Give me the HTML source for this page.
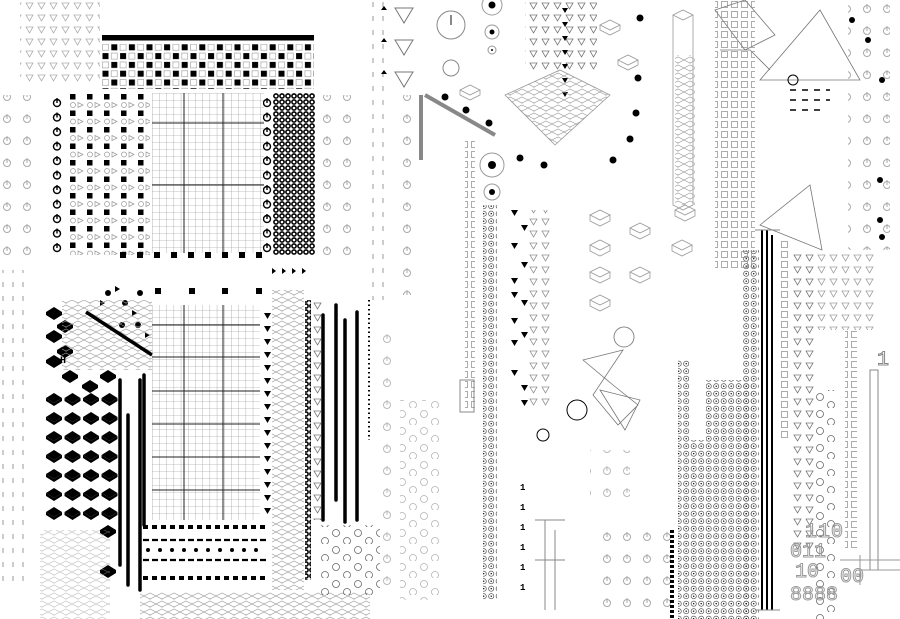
<!DOCTYPE html>
<html><head><meta charset="utf-8"><style>
html,body{margin:0;padding:0;background:#fff;width:900px;height:619px;overflow:hidden}
svg{display:block}
text{font-family:"Liberation Mono",monospace}
</style></head><body>
<svg width="900" height="619" viewBox="0 0 900 619" xmlns="http://www.w3.org/2000/svg">
<defs>
<pattern id="chk" x="102" y="35" width="17.6" height="17.6" patternUnits="userSpaceOnUse">
<rect x="0.5" y="0.5" width="6" height="6" fill="#000"/><rect x="9.3" y="0.5" width="6" height="6" fill="none" stroke="#999" stroke-width=".6"/>
<rect x="9.3" y="9.3" width="6" height="6" fill="#000"/><rect x="0.5" y="9.3" width="6" height="6" fill="none" stroke="#999" stroke-width=".6"/>
</pattern>
<pattern id="lb" x="68" y="93" width="17" height="16.5" patternUnits="userSpaceOnUse">
<rect x="2" y="1" width="5.5" height="5.5" fill="#000"/>
<circle cx="5" cy="12" r="2.5" fill="none" stroke="#999" stroke-width=".7"/><path d="M10 9.5l5 2.5-5 2.5z" fill="none" stroke="#999" stroke-width=".7"/>
</pattern>
<pattern id="grid" x="152" y="93" width="7.2" height="7" patternUnits="userSpaceOnUse">
<path d="M0 0H7.2M0 0V7" stroke="#888" stroke-width=".6" fill="none"/>
</pattern>
<pattern id="dots" x="273" y="93" width="6" height="6" patternUnits="userSpaceOnUse">
<circle cx="3" cy="3" r="2.1" fill="none" stroke="#000" stroke-width="1.6"/>
</pattern>
<pattern id="pw" x="50" y="95" width="15" height="14.5" patternUnits="userSpaceOnUse">
<circle cx="7" cy="8" r="3.5" fill="none" stroke="#000" stroke-width="1.4"/><path d="M7 3v5" stroke="#000" stroke-width="1.4"/>
</pattern>
<pattern id="pwg" width="20" height="22" patternUnits="userSpaceOnUse">
<circle cx="7" cy="9" r="3.5" fill="none" stroke="#aaa" stroke-width="1"/><path d="M7 4v5" stroke="#aaa" stroke-width="1"/>
</pattern>
<pattern id="hex" x="45" y="390" width="18.5" height="19" patternUnits="userSpaceOnUse">
<path d="M1 8l8-5 8 5-8 5z" fill="#000"/><path d="M1 8v3l8 5 8-5v-3l-8 5z" fill="#000"/>
</pattern>
<pattern id="cube" width="12" height="8" patternUnits="userSpaceOnUse">
<path d="M0 4l6-3 6 3-6 3zM6 7v1" fill="none" stroke="#999" stroke-width=".6"/>
</pattern>
<pattern id="ccol" width="7.5" height="7.5" patternUnits="userSpaceOnUse">
<circle cx="3.7" cy="3.7" r="2.6" fill="none" stroke="#555" stroke-width=".7"/><circle cx="3.7" cy="3.7" r=".7" fill="#000"/>
</pattern>
<pattern id="oc" width="22" height="17" patternUnits="userSpaceOnUse">
<circle cx="6" cy="6" r="3.5" fill="none" stroke="#666" stroke-width=".8"/><circle cx="17" cy="14" r="3.5" fill="none" stroke="#666" stroke-width=".8"/>
</pattern>
<pattern id="tri" width="12" height="12" patternUnits="userSpaceOnUse">
<path d="M2 3h7l-3.5 6z" fill="none" stroke="#777" stroke-width=".8"/>
</pattern>
<pattern id="sq" width="10" height="10" patternUnits="userSpaceOnUse">
<rect x="1.5" y="1.5" width="6" height="6" fill="none" stroke="#888" stroke-width=".7"/>
</pattern>
<pattern id="dash" width="10" height="14" patternUnits="userSpaceOnUse">
<path d="M3 2v5" stroke="#aaa" stroke-width="1.2"/>
</pattern>
</defs>

<rect x="0" y="95" width="40" height="160" fill="url(#pwg)"/>
<rect x="2" y="270" width="30" height="320" fill="url(#dash)"/>
<rect x="20" y="0" width="80" height="84" fill="url(#tri)" opacity=".6"/>

<rect x="102" y="44" width="212" height="45" fill="url(#chk)"/>
<rect x="102" y="35" width="212" height="5.5" fill="#000"/>

<rect x="50" y="95" width="15" height="160" fill="url(#pw)"/>
<rect x="68" y="93" width="82" height="162" fill="url(#lb)"/>

<rect x="152" y="93" width="112" height="160" fill="url(#grid)"/>
<path d="M152 123H264M152 185H264M184 93V253M223 93V253" stroke="#222" stroke-width="1"/>
<rect x="273" y="93" width="42" height="162" fill="url(#dots)"/>
<rect x="263" y="95" width="11" height="160" fill="url(#pw)"/>
<rect x="318" y="95" width="40" height="160" fill="url(#pwg)"/>
<g fill="#000"><rect x="120" y="252" width="6" height="6"/><rect x="137" y="252" width="6" height="6"/><rect x="154" y="252" width="6" height="6"/><rect x="171" y="252" width="6" height="6"/><rect x="188" y="252" width="6" height="6"/><rect x="205" y="252" width="6" height="6"/><rect x="222" y="252" width="6" height="6"/><rect x="239" y="252" width="6" height="6"/><rect x="256" y="252" width="6" height="6"/></g>
<path d="M272 268l4 3-4 3zM282 268l4 3-4 3zM292 268l4 3-4 3zM302 268l4 3-4 3z" fill="#000"/>

<g fill="#000">
<circle cx="108" cy="293" r="3"/><circle cx="125" cy="303" r="3"/><circle cx="140" cy="293" r="3"/><circle cx="122" cy="325" r="3"/><circle cx="138" cy="325" r="3"/>
<path d="M100 300l5 3-5 3zM115 286l5 3-5 3zM132 310l5 3-5 3zM145 332l5 3-5 3z"/>
<rect x="155" y="288" width="6" height="6"/><rect x="189" y="288" width="6" height="6"/><rect x="222" y="288" width="6" height="6"/><rect x="256" y="288" width="6" height="6"/>
</g>

<rect x="45" y="390" width="75" height="130" fill="url(#hex)"/>
<g fill="#000"><path d="M46 312l8-5 8 5v3l-8 5-8-5zM46 335l8-5 8 5v3l-8 5-8-5zM46 360l8-5 8 5v3l-8 5-8-5zM57 325l8-5 8 5v3l-8 5-8-5zM57 350l8-5 8 5v3l-8 5-8-5zM62 375l8-5 8 5v3l-8 5-8-5zM100 375l8-5 8 5v3l-8 5-8-5zM100 530l8-5 8 5v3l-8 5-8-5zM100 570l8-5 8 5v3l-8 5-8-5zM82 385l8-5 8 5v3l-8 5-8-5z"/></g>
<rect x="62" y="300" width="90" height="70" fill="url(#cube)"/>
<text x="60" y="363" font-size="10" font-weight="bold">H</text>
<path d="M86 312L152 355" stroke="#000" stroke-width="3.5"/>

<rect x="152" y="305" width="108" height="215" fill="url(#grid)"/>
<path d="M152 325H260M152 357H260M152 391H260M152 424H260M152 457H260M152 490H260M184 305V520M223 305V520" stroke="#222" stroke-width="1"/>
<g fill="#000">
<path d="M264 313h7l-3.5 6zM264 326h7l-3.5 6zM264 339h7l-3.5 6zM264 352h7l-3.5 6zM264 365h7l-3.5 6zM264 378h7l-3.5 6zM264 391h7l-3.5 6zM264 404h7l-3.5 6zM264 417h7l-3.5 6zM264 430h7l-3.5 6zM264 443h7l-3.5 6zM264 456h7l-3.5 6zM264 469h7l-3.5 6zM264 482h7l-3.5 6zM264 495h7l-3.5 6zM264 508h7l-3.5 6z"/>
</g>
<rect x="272" y="290" width="32" height="300" fill="url(#cube)"/>
<g stroke="#000" stroke-width="3.5" fill="none" stroke-linecap="round">
<path d="M120 380V565"/><path d="M140 380V590"/><path d="M128 415V585"/><path d="M144 375V525"/>
<path d="M323 315V520M336 305V500M345 320V522M357 312V520"/>
</g>
<g fill="none" stroke="#000">
<path d="M143 527h125" stroke-width="4" stroke-dasharray="5 4"/>
<path d="M143 540h125" stroke-width="2.2" stroke-dasharray="6 3"/>
<path d="M143 560h125" stroke-width="2.2" stroke-dasharray="6 3"/>
<path d="M143 578h125" stroke-width="4" stroke-dasharray="5 4"/>
</g>
<g fill="#000"><circle cx="148" cy="550" r="2"/><circle cx="160" cy="550" r="2"/><circle cx="172" cy="550" r="2"/><circle cx="184" cy="550" r="2"/><circle cx="196" cy="550" r="2"/><circle cx="208" cy="550" r="2"/><circle cx="220" cy="550" r="2"/><circle cx="232" cy="550" r="2"/><circle cx="244" cy="550" r="2"/><circle cx="256" cy="550" r="2"/></g>
<rect x="40" y="530" width="70" height="89" fill="url(#cube)" opacity=".6"/>
<rect x="140" y="592" width="230" height="27" fill="url(#cube)"/>
<rect x="305" y="300" width="6" height="280" fill="url(#dots)"/>
<rect x="312" y="300" width="12" height="220" fill="url(#tri)"/>
<rect x="320" y="525" width="60" height="70" fill="url(#oc)"/>
<path d="M369 300V440" stroke="#000" stroke-width="2" stroke-dasharray="1.5 3"/>

<rect x="372" y="0" width="12" height="300" fill="url(#dash)"/>
<path d="M395 8h18l-9 15zM395 40h18l-9 15zM395 72h18l-9 15z" fill="none" stroke="#777"/>
<path d="M384 6l3 4h-6zM384 38l3 4h-6zM384 70l3 4h-6z" fill="#000"/>
<rect x="393" y="95" width="28" height="200" fill="url(#pwg)"/>
<rect x="372" y="330" width="20" height="260" fill="url(#pwg)" opacity=".8"/>
<rect x="400" y="400" width="40" height="200" fill="url(#oc)" opacity=".5"/>
<circle cx="451" cy="25" r="14" fill="none" stroke="#888"/><path d="M451 15v10" stroke="#888" stroke-width="2"/>
<circle cx="451" cy="68" r="8" fill="none" stroke="#888"/>
<path d="M425 95L495 135" stroke="#888" stroke-width="4" fill="none"/>
<path d="M421 95L421 160" stroke="#888" stroke-width="4"/>
<circle cx="492" cy="5" r="10" fill="none" stroke="#999"/><circle cx="492" cy="5" r="3.5" fill="#000"/>
<circle cx="492" cy="32" r="7" fill="none" stroke="#999"/><circle cx="492" cy="32" r="2.5" fill="#000"/>
<circle cx="492" cy="50" r="4" fill="none" stroke="#999"/><circle cx="492" cy="50" r="1" fill="#000"/>
<circle cx="492" cy="165" r="12" fill="none" stroke="#999"/><circle cx="492" cy="165" r="4" fill="#000"/>
<circle cx="492" cy="192" r="8" fill="none" stroke="#999"/><circle cx="492" cy="192" r="3" fill="#000"/>
<g fill="#000"><circle cx="445" cy="97" r="3.5"/><circle cx="466" cy="110" r="3.5"/><circle cx="489" cy="123" r="3.5"/><circle cx="520" cy="158" r="3.5"/><circle cx="544" cy="165" r="3.5"/><circle cx="613" cy="160" r="3.5"/><circle cx="630" cy="139" r="3.5"/><circle cx="636" cy="113" r="3.5"/><circle cx="638" cy="78" r="3.5"/><circle cx="640" cy="18" r="3.5"/></g>
<rect x="465" y="140" width="10" height="270" fill="url(#sq)"/>
<rect x="483" y="205" width="14" height="395" fill="url(#ccol)"/>
<rect x="460" y="380" width="14" height="32" fill="none" stroke="#888"/>
<rect x="525" y="0" width="72" height="70" fill="url(#tri)"/>
<path d="M562 8h6l-3 5zM562 22h6l-3 5zM562 36h6l-3 5zM562 50h6l-3 5zM562 64h6l-3 5zM562 78h6l-3 5zM562 92h6l-3 5z" fill="#000"/>
<path d="M505 95l55-25 50 25-55 50z" fill="url(#cube)" stroke="#999" stroke-width=".8"/>
<g fill="none" stroke="#999" stroke-width=".8">
<path d="M460 90l10-5 10 5-10 5zM460 90v5l10 5 10-5v-5"/>
<path d="M600 25l10-5 10 5-10 5zM600 25v5l10 5 10-5v-5"/>
<path d="M618 60l10-5 10 5-10 5zM618 60v5l10 5 10-5v-5"/>
<path d="M590 215l10-5 10 5-10 5zM590 215v6l10 5 10-5v-6"/>
<path d="M590 245l10-5 10 5-10 5zM590 245v6l10 5 10-5v-6"/>
<path d="M590 272l10-5 10 5-10 5zM590 272v6l10 5 10-5v-6"/>
<path d="M590 300l10-5 10 5-10 5zM590 300v6l10 5 10-5v-6"/>
<path d="M630 228l10-5 10 5-10 5zM630 228v6l10 5 10-5v-6"/>
<path d="M630 272l10-5 10 5-10 5zM630 272v6l10 5 10-5v-6"/>
<path d="M672 245l10-5 10 5-10 5zM672 245v6l10 5 10-5v-6"/>
<path d="M675 210l10-5 10 5-10 5zM675 210v6l10 5 10-5v-6"/>
<path d="M673 15l10-5 10 5-10 5zM673 15v190l10 5 10-5v-190"/>
</g>
<rect x="675" y="55" width="20" height="150" fill="url(#cube)"/>
<g fill="#000">
<path d="M511 210h7l-3.5 6zM511 243h7l-3.5 6zM511 278h7l-3.5 6zM511 292h7l-3.5 6zM511 318h7l-3.5 6zM511 340h7l-3.5 6zM511 370h7l-3.5 6zM521 225h7l-3.5 6zM521 262h7l-3.5 6zM521 300h7l-3.5 6zM521 332h7l-3.5 6zM521 385h7l-3.5 6zM521 400h7l-3.5 6z"/>
</g>
<rect x="528" y="210" width="22" height="200" fill="url(#tri)" opacity=".8"/>
<text x="520" y="490" font-size="9" font-weight="bold">1</text><text x="520" y="510" font-size="9" font-weight="bold">1</text><text x="520" y="530" font-size="9" font-weight="bold">1</text><text x="520" y="550" font-size="9" font-weight="bold">1</text><text x="520" y="570" font-size="9" font-weight="bold">1</text><text x="520" y="590" font-size="9" font-weight="bold">1</text>
<g fill="none" stroke="#888"><path d="M535 520h30M545 520v90M555 530v80M535 560h30"/></g>
<circle cx="577" cy="410" r="10" fill="none" stroke="#000"/>
<circle cx="543" cy="435" r="6" fill="none" stroke="#000"/>
<g fill="none" stroke="#777" stroke-width=".8">
<path d="M583 360l40 -10 -30 45 25 30 20 -20 -25-20zM600 390l40 10 -15 30z"/>
<path d="M715 10l30 -10 30 35-30 15-15-20zM720 50l30 0 20 20"/>
<path d="M760 80l60-70 40 70z"/><path d="M760 225l50-40 12 65z"/>
</g>
<circle cx="624" cy="337" r="10" fill="none" stroke="#888"/>
<circle cx="793" cy="80" r="5" fill="none" stroke="#000"/>
<rect x="592" y="520" width="80" height="99" fill="url(#pwg)"/>
<rect x="590" y="450" width="40" height="60" fill="url(#pwg)" opacity=".8"/>
<path d="M672 530V619" stroke="#000" stroke-width="4" stroke-dasharray="3 2"/>
<rect x="678" y="360" width="12" height="260" fill="url(#ccol)"/>
<rect x="690" y="440" width="16" height="180" fill="url(#ccol)"/>
<rect x="706" y="380" width="46" height="240" fill="url(#ccol)"/>
<rect x="743" y="250" width="16" height="370" fill="url(#ccol)"/>
<rect x="715" y="0" width="40" height="270" fill="url(#sq)"/>
<g stroke="#000" stroke-width="2"><path d="M762 230V610"/><path d="M767 230V610"/><path d="M772 235V610"/></g>
<path d="M755 230h25M755 610h25" stroke="#888"/>
<rect x="780" y="240" width="10" height="200" fill="url(#sq)"/>
<rect x="792" y="250" width="25" height="300" fill="url(#tri)"/>
<rect x="817" y="250" width="60" height="80" fill="url(#tri)" opacity=".7"/>
<rect x="815" y="390" width="20" height="230" fill="url(#oc)"/>
<rect x="845" y="330" width="12" height="220" fill="url(#sq)"/>
<rect x="870" y="370" width="8" height="200" fill="none" stroke="#888"/>
<text x="877" y="365" font-size="20" fill="none" stroke="#888">1</text>
<text x="805" y="537" font-size="20" fill="none" stroke="#999" letter-spacing="1">110</text>
<text x="790" y="557" font-size="20" fill="none" stroke="#999">011</text>
<text x="795" y="577" font-size="20" fill="none" stroke="#999">10</text>
<text x="790" y="600" font-size="20" fill="none" stroke="#999">8888</text>
<text x="840" y="582" font-size="20" fill="none" stroke="#999">00</text>
<g fill="none" stroke="#999"><path d="M840 560h60M860 570h40M860 555v30"/></g>
<rect x="848" y="0" width="42" height="250" fill="url(#pwg)"/>
<g fill="#000"><circle cx="852" cy="20" r="3"/><circle cx="868" cy="40" r="3"/><circle cx="882" cy="80" r="3"/><circle cx="880" cy="180" r="3"/><circle cx="880" cy="220" r="3"/><circle cx="882" cy="237" r="3"/></g>
<path d="M790 90h40M790 100h40M790 110h30" stroke="#000" stroke-width="1.5" stroke-dasharray="6 6"/>
</svg>
</body></html>
